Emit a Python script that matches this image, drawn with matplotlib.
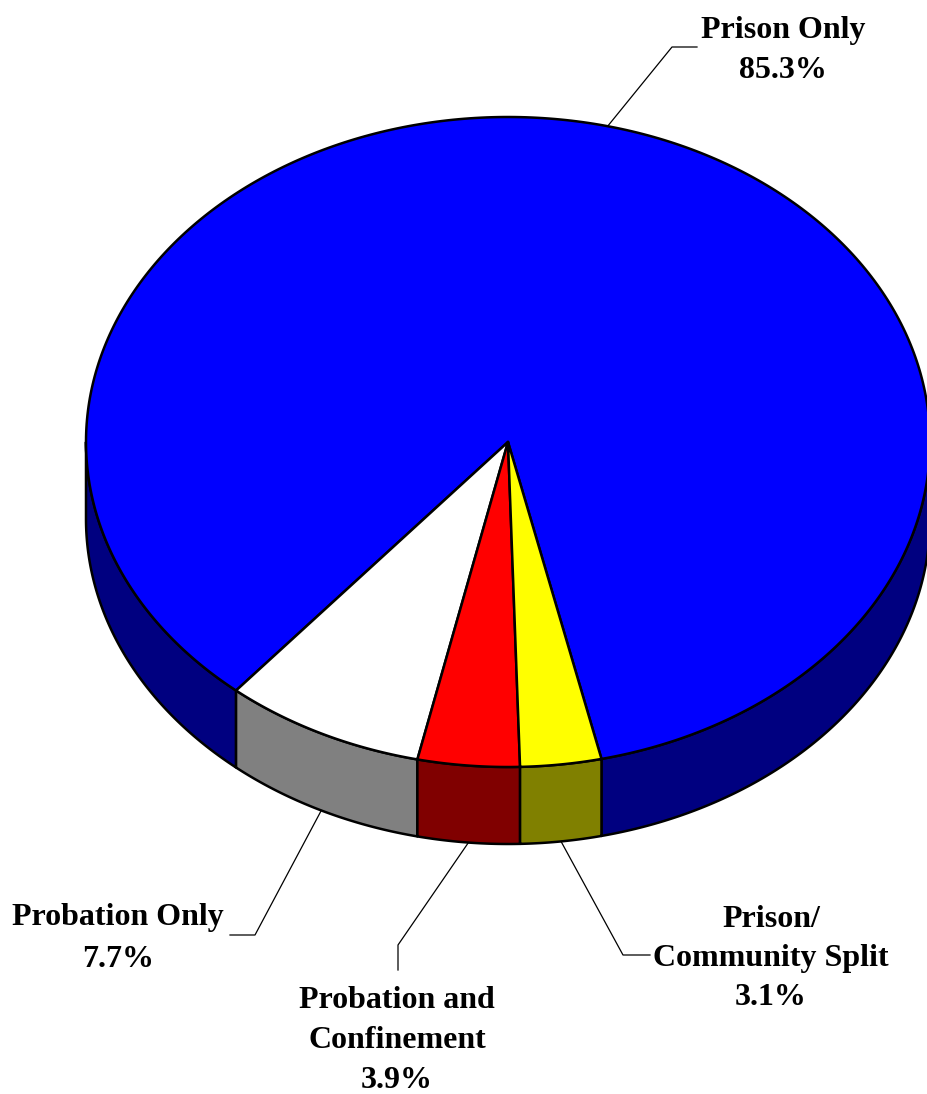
import numpy as np
import matplotlib.pyplot as plt
from matplotlib.patches import Polygon

# slice data (counterclockwise from the start angle)
labels = ['Prison Only', 'Probation Only', 'Probation and\nConfinement', 'Prison/\nCommunity Split']
values = [85.3, 7.7, 3.9, 3.1]
top_colors = ['#0000FF', '#FFFFFF', '#FF0000', '#FFFF00']
side_colors = ['#000080', '#808080', '#800000', '#808000']

# pie geometry in pixel space
cx, cy = 508, 442
rx, ry = 422, 325
depth = 77
start = -77.2

fig = plt.figure(figsize=(9.27, 10.94), dpi=100)
ax = fig.add_axes([0, 0, 1, 1])
ax.set_xlim(0, 927)
ax.set_ylim(1094, 0)
ax.set_aspect('equal')
ax.axis('off')

fracs = np.array(values) / sum(values) * 360
edges = start + np.concatenate([[0], np.cumsum(fracs)])


def pt(t, dz=0):
    r = np.radians(t)
    return cx + rx * np.cos(r), cy - ry * np.sin(r) + dz


# side walls (front half only)
for i in range(len(values)):
    t1, t2 = edges[i], edges[i + 1]
    for k in (-1, 0, 1):
        lo = max(t1, 180 + 360 * k)
        hi = min(t2, 360 + 360 * k)
        if lo < hi:
            ts = np.linspace(lo, hi, 200)
            topx, topy = pt(ts)
            botx, boty = pt(ts[::-1], depth)
            xy = np.column_stack([np.concatenate([topx, botx]),
                                  np.concatenate([topy, boty])])
            ax.add_patch(Polygon(xy, closed=True, facecolor=side_colors[i],
                                 edgecolor='black', lw=1.8, joinstyle='round'))

# top faces
for i in range(len(values)):
    ts = np.linspace(edges[i], edges[i + 1], 400)
    ax_, ay_ = pt(ts)
    xy = np.column_stack([np.concatenate([[cx], ax_]), np.concatenate([[cy], ay_])])
    ax.add_patch(Polygon(xy, closed=True, facecolor=top_colors[i],
                         edgecolor='black', lw=1.8, joinstyle='round'))

# labels and leader lines
mids = (edges[:-1] + edges[1:]) / 2
font = dict(family='Liberation Serif', weight='bold', size=23, ha='center', va='baseline')
label_pos = [(783, 38), (118, 925), (397, 1008), (771, 927)]
line_step = [40, 42, 40, 39]
elbows = [[(672, 47), (697, 47)],
          [(255, 935), (230, 935)],
          [(398, 945), (398, 970)],
          [(623, 955), (650, 955)]]

for i in range(len(values)):
    if np.sin(np.radians(mids[i])) > 0:
        ax0, ay0 = pt(mids[i])
    else:
        ax0, ay0 = pt(mids[i], depth)
    xs = [ax0] + [e[0] for e in elbows[i]]
    ys = [ay0] + [e[1] for e in elbows[i]]
    ax.plot(xs, ys, color='black', lw=0.9)
    lines = labels[i].split('\n') + ['%.1f%%' % values[i]]
    x0, y0 = label_pos[i]
    for j, s in enumerate(lines):
        ax.text(x0, y0 + j * line_step[i], s, **font)

plt.savefig('out.png', dpi=100)
